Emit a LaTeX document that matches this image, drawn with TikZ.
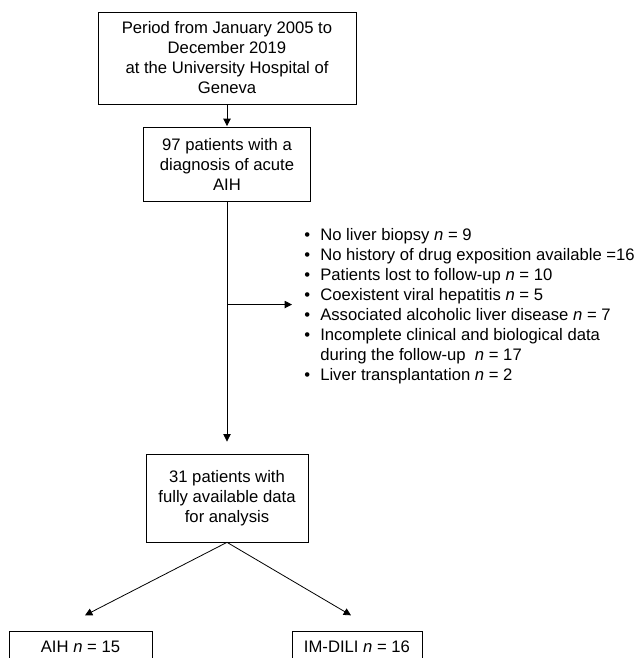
\documentclass[tikz,border=0pt]{standalone}
\usepackage{fontspec}
\setmainfont{Liberation Sans}
\usetikzlibrary{arrows.meta,positioning}
\tikzset{
  stage/.style={draw,line width=0.6pt,align=center,inner sep=2pt,font=\fontsize{12.5}{15}\selectfont},
  group/.style={stage,inner ysep=7pt},
  reasons/.style={align=left,inner sep=0pt,font=\fontsize{12.5}{15}\selectfont},
  arr/.style={-{Triangle[length=5.5pt,width=5.5pt]},line width=0.6pt}
}
\newcommand{\bul}{\makebox[12pt][l]{\textbullet}}

\begin{document}
\begin{tikzpicture}
    \useasboundingbox (0,0) rectangle (480pt,-493.5pt);
    \node[stage,minimum width=193.5pt,minimum height=69pt] (period) at (170.25pt,-43.5pt) {Period from January 2005 to\\December 2019\\at the University Hospital of\\Geneva};
    \node[stage,minimum width=125pt,minimum height=55pt,below=17.25pt of period] (acute) {97 patients with a\\diagnosis of acute\\AIH};
    \node[stage,minimum width=121.5pt,minimum height=66pt,below=189pt of acute] (full) {31 patients with\\fully available data\\for analysis};
    \node[group,minimum width=107.25pt,below=66.75pt of full,xshift=-109.9pt] (aih) {AIH \textit{n} = 15};
    \node[group,minimum width=97.5pt,below=66.75pt of full,xshift=97.5pt] (dili) {IM-DILI \textit{n} = 16};
    % excluded patients
    \coordinate (split) at ([yshift=-77.25pt]acute.south);
    \coordinate (exclend) at ([xshift=48.75pt]split);
    \node[reasons,right=9pt of exclend,yshift=-1.5pt] (excl) {\bul No liver biopsy \textit{n} = 9\\
      \bul No history of drug exposition available =16\\
      \bul Patients lost to follow-up \textit{n} = 10\\
      \bul Coexistent viral hepatitis \textit{n} = 5\\
      \bul Associated alcoholic liver disease \textit{n} = 7\\
      \bul Incomplete clinical and biological data\\
      \hspace*{12pt}during the follow-up \ \textit{n} = 17\\
      \bul Liver transplantation \textit{n} = 2};
    \coordinate (aihend) at ([shift={(3.4pt,12pt)}]aih.north);
    \coordinate (diliend) at ([shift={(-4.5pt,12pt)}]dili.north);
    \draw[arr,shorten >=1pt] (period) -- (acute);
    \draw[arr,shorten >=9pt] (acute) -- (full);
    \draw[arr] (split) -- (exclend);
    \draw[arr] (full.south) -- (aihend);
    \draw[arr] (full.south) -- (diliend);
\end{tikzpicture}
\end{document}
